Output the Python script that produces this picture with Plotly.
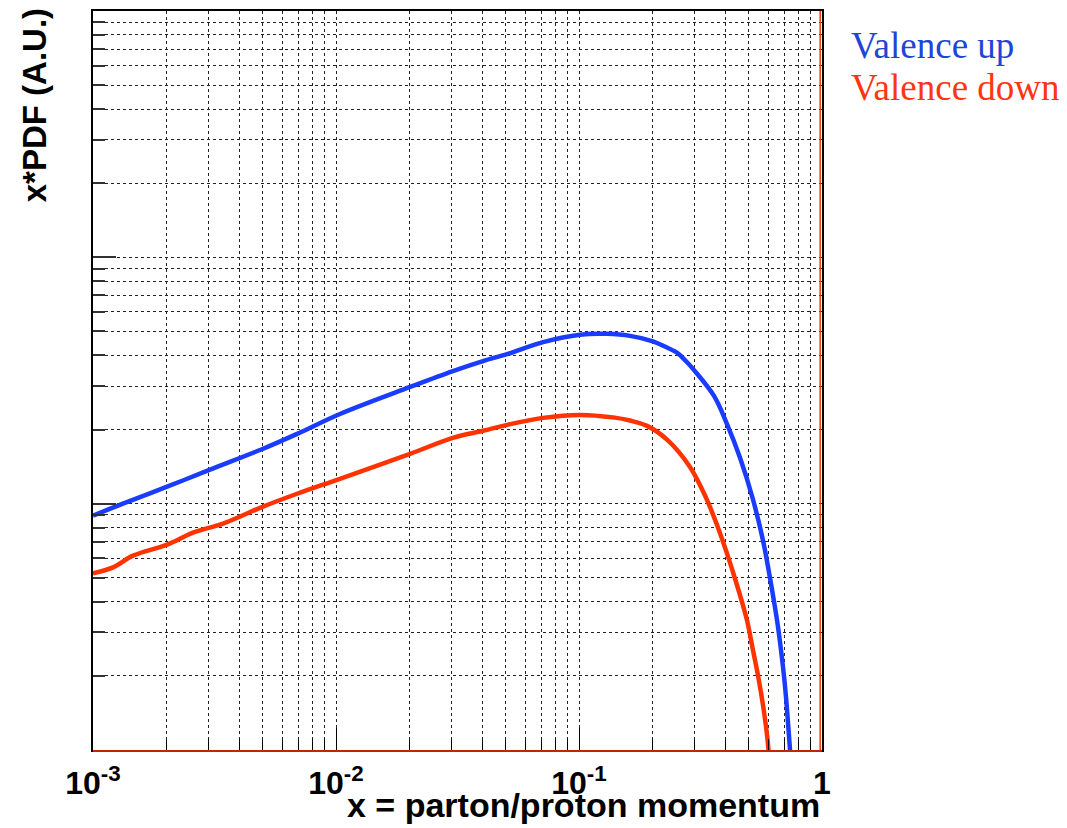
import plotly.graph_objects as go

# ---- data (x = momentum fraction, y = x*PDF in arbitrary units)
up_x = [0.001, 0.001328, 0.002018, 0.003030, 0.005012, 0.006918, 0.01038, 0.02018,
        0.03027, 0.04027, 0.05058, 0.07112, 0.1009, 0.1303, 0.1622, 0.2015, 0.2254,
        0.2529, 0.2753, 0.2999, 0.3594, 0.4062, 0.4599, 0.5176, 0.5718, 0.6166, 0.6558,
        0.6911, 0.7110, 0.7385, 0.749]
up_y = [0.00894, 0.0100, 0.01172, 0.01374, 0.01671, 0.01920, 0.02313, 0.02977,
        0.03453, 0.03793, 0.04047, 0.04529, 0.04855, 0.04890, 0.04800, 0.04560, 0.04342,
        0.04100, 0.03793, 0.03453, 0.02737, 0.02108, 0.01535, 0.01057, 0.00709, 0.00474,
        0.00327, 0.00217, 0.00164, 0.00100, 0.00083]

down_x = [0.001, 0.001209, 0.001461, 0.002018, 0.002582, 0.003428, 0.005012, 0.006918,
          0.01038, 0.02018, 0.03027, 0.04027, 0.05058, 0.07112, 0.1009, 0.1380, 0.1622,
          0.1905, 0.2303, 0.2862, 0.3332, 0.3733, 0.4067, 0.4345, 0.4642, 0.4914, 0.5200,
          0.5452, 0.5718, 0.5940, 0.6050, 0.6106]
down_y = [0.00521, 0.00551, 0.00615, 0.00682, 0.00763, 0.00830, 0.00973, 0.01097,
          0.01262, 0.01593, 0.01850, 0.01976, 0.02089, 0.02230, 0.02293, 0.02240, 0.02175,
          0.02069, 0.01820, 0.01410, 0.01057, 0.00799, 0.00627, 0.00511, 0.00412, 0.00336,
          0.00254, 0.00201, 0.00152, 0.00115, 0.00095, 0.00083]

x_tickvals = [0.001, 0.01, 0.1, 1]
x_ticktext = ["10<sup>-3</sup>", "10<sup>-2</sup>", "10<sup>-1</sup>", "1"]

series_names = ["Valence up", "Valence down"]
line_colors = ["#1a3cff", "#ff3300"]
text_colors = ["#1f45d6", "#ff3512"]

fig = go.Figure()
fig.add_trace(go.Scatter(x=up_x, y=up_y, mode="lines", name=series_names[0],
                         line=dict(color=line_colors[0], width=4.5, shape="spline", smoothing=1.0),
                         showlegend=False))
fig.add_trace(go.Scatter(x=down_x, y=down_y, mode="lines", name=series_names[1],
                         line=dict(color=line_colors[1], width=4.5, shape="spline", smoothing=1.0),
                         showlegend=False))

grid = dict(showgrid=True, gridcolor="#222222", griddash="dot", gridwidth=1)

fig.update_xaxes(type="log", range=[-3, 0], tickmode="array", tickvals=x_tickvals,
                 ticktext=x_ticktext, ticks="inside", ticklen=22, tickwidth=1.2,
                 tickcolor="black", showline=True, linecolor="black", linewidth=1.5,
                 mirror=True, zeroline=False,
                 tickfont=dict(family="Liberation Sans, Arial", size=32, color="black", weight="bold"),
                 ticklabelstandoff=4,
                 minor=dict(dtick="D1", ticks="inside", ticklen=11, tickwidth=1.2,
                            tickcolor="black", **grid),
                 **grid)
fig.update_yaxes(type="log", range=[-3, 0], dtick=1, showticklabels=False,
                 ticks="inside", ticklen=23, tickwidth=1.5, tickcolor="#333333",
                 showline=True, linecolor="black", linewidth=1.5, mirror=True, zeroline=False,
                 minor=dict(dtick="D1", ticks="inside", ticklen=12, tickwidth=1.5,
                            tickcolor="#333333", **grid),
                 **grid)

annotations = [
    dict(text="<b>x = parton/proton momentum</b>", xref="paper", yref="paper",
         x=1.0, y=-0.075, xanchor="right", yanchor="middle", showarrow=False,
         font=dict(family="Liberation Sans, Arial", size=34, color="black")),
    dict(text="<b>x*PDF (A.U.)</b>", xref="paper", yref="paper", textangle=-90,
         x=-0.080, y=1.006, xanchor="center", yanchor="top", showarrow=False,
         font=dict(family="Liberation Sans, Arial", size=33, color="black")),
]
for i, (name, col) in enumerate(zip(series_names, text_colors)):
    annotations.append(dict(text=name, xref="paper", yref="paper",
                            x=1.037, y=0.953 - i * 0.056, xanchor="left", yanchor="middle",
                            showarrow=False,
                            font=dict(family="Liberation Serif, Times New Roman", size=37, color=col)))

shapes = [
    dict(type="line", xref="paper", yref="paper", x0=0, x1=1, y0=-0.0015, y1=-0.0015,
         line=dict(color=line_colors[1], width=1.5)),
    dict(type="line", xref="paper", yref="paper", x0=0.9975, x1=0.9975, y0=0, y1=1,
         line=dict(color=line_colors[1], width=1.5)),
]

fig.update_layout(width=1067, height=828, margin=dict(l=93, r=245, t=9, b=78),
                  plot_bgcolor="white", paper_bgcolor="white",
                  annotations=annotations, shapes=shapes)

fig.write_html("out.html")
